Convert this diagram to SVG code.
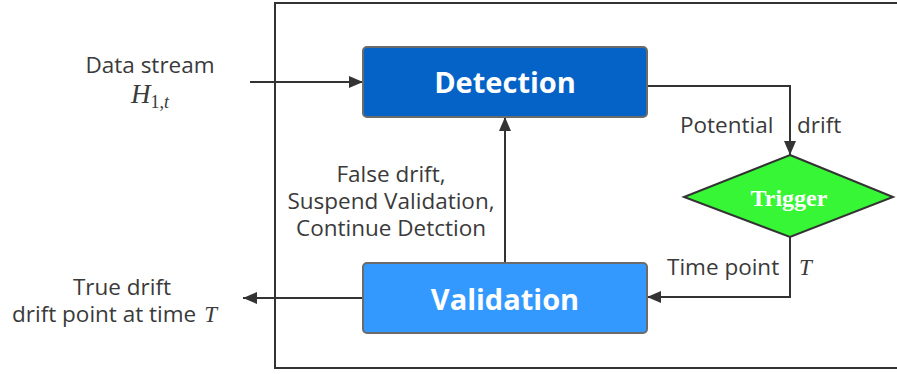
<svg xmlns="http://www.w3.org/2000/svg" width="897" height="374" viewBox="0 0 897 374">
  <style>
    .lbl { font-family: "Open Sans", "Noto Sans", "Liberation Sans", sans-serif; font-size: 22.5px; fill: #3a3a3a; }
    .math { font-family: "Liberation Serif", "DejaVu Serif", serif; font-style: italic; fill: #3a3a3a; }
    .box { stroke: #6b6b6b; stroke-width: 2; }
    .boxtxt { font-family: "Open Sans", "Noto Sans", "Liberation Sans", sans-serif; font-weight: bold; font-size: 29px; fill: #ffffff; text-anchor: middle; }
    .wire { fill: none; stroke: #333333; stroke-width: 2; }
  </style>
  <defs>
    <marker id="arrow" markerUnits="userSpaceOnUse" markerWidth="14" markerHeight="12" refX="14" refY="6" orient="auto">
      <path d="M0,0 L14,6 L0,12 Z" fill="#333333"/>
    </marker>
  </defs>

  <rect width="897" height="374" fill="#ffffff"/>

  <!-- system boundary -->
  <rect id="frame" x="275" y="3" width="630" height="365" fill="none" stroke="#333333" stroke-width="2"/>

  <!-- connectors -->
  <g id="connectors">
    <path class="wire" d="M250,82 L363,82" marker-end="url(#arrow)"/>
    <path class="wire" d="M647,86 L790,86 L790,155" marker-end="url(#arrow)"/>
    <path class="wire" d="M790,237 L790,297 L647,297" marker-end="url(#arrow)"/>
    <path class="wire" d="M505,263 L505,117" marker-end="url(#arrow)"/>
    <path class="wire" d="M363,298 L243,298" marker-end="url(#arrow)"/>
  </g>

  <!-- nodes -->
  <g id="detection">
    <rect class="box" x="363" y="47" width="284" height="70" rx="4" fill="#0563c8"/>
    <text class="boxtxt" x="505" y="93">Detection</text>
  </g>

  <g id="validation">
    <rect class="box" x="363" y="263" width="284" height="70" rx="4" fill="#3399ff"/>
    <text class="boxtxt" x="505" y="310">Validation</text>
  </g>

  <g id="trigger">
    <polygon points="790,155 893,197 790,237 684,197" fill="#36f636" stroke="#333333" stroke-width="2"/>
    <text x="789" y="206" text-anchor="middle" font-family="Liberation Serif, DejaVu Serif, serif" font-weight="bold" font-size="24" fill="#ffffff">Trigger</text>
  </g>

  <!-- labels -->
  <g id="input-label">
    <text class="lbl" x="150" y="73" text-anchor="middle">Data stream</text>
    <text class="math" x="131" y="103" font-size="27">H<tspan font-style="normal" font-size="18" dy="5">1,</tspan><tspan font-size="18">t</tspan></text>
  </g>

  <g id="edge-labels">
    <text class="lbl" x="680" y="133">Potential</text>
    <text class="lbl" x="797" y="133">drift</text>
    <text class="lbl" x="667" y="275">Time point</text>
    <text class="math" x="799" y="275" font-size="23">T</text>
    <text class="lbl" x="391" y="182" text-anchor="middle">False drift,</text>
    <text class="lbl" x="391" y="209" text-anchor="middle">Suspend Validation,</text>
    <text class="lbl" x="391" y="236" text-anchor="middle">Continue Detction</text>
  </g>

  <g id="output-label">
    <text class="lbl" x="122" y="295" text-anchor="middle">True drift</text>
    <text class="lbl" x="12" y="322">drift point at time<tspan class="math" font-size="23" dx="8">T</tspan></text>
  </g>
</svg>
